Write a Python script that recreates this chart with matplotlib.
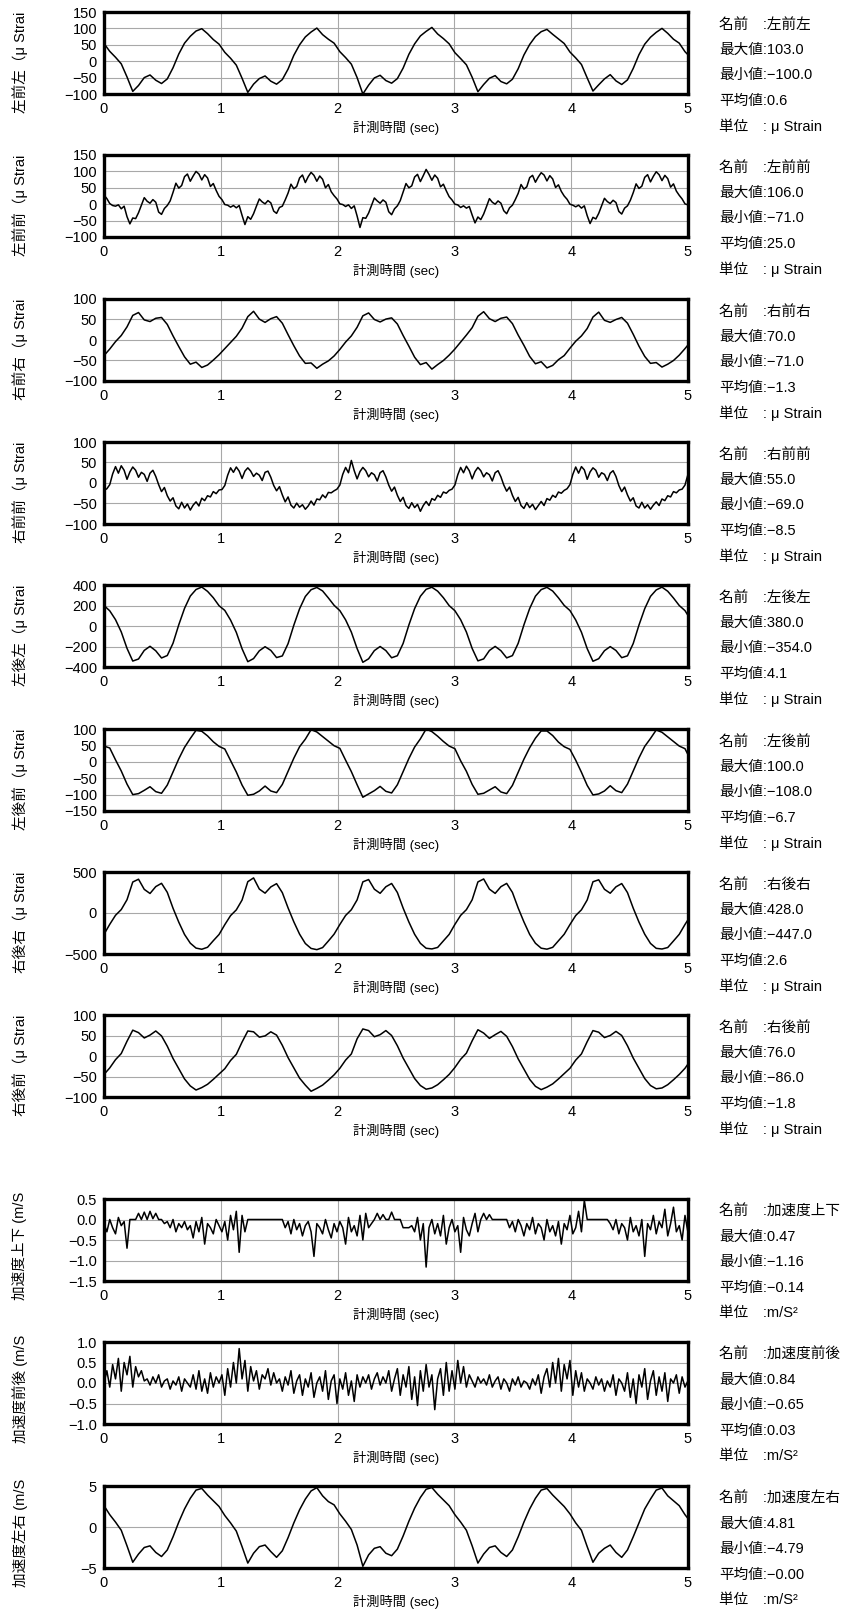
import numpy as np
import matplotlib
matplotlib.use("Agg")
import matplotlib.pyplot as plt

plt.rcParams['font.family'] = ['Liberation Sans', 'Noto Sans CJK JP']
plt.rcParams['axes.unicode_minus'] = True

# sampling steps (sec) of the logged channels
DT = 0.04925
DT_FINE = 0.024625

# --- strain channels (μ Strain) ---
lzl = [54, 30, 12, -8, -48, -92, -74, -50, -42, -58, -68, -54, -20, 22, 55, 76, 92, 99, 84, 66,
       52, 27, 9, -12, -52, -95, -70, -53, -45, -61, -70, -56, -24, 18, 50, 74, 89, 101, 81, 67,
       55, 29, 11, -9, -50, -100, -73, -51, -43, -59, -67, -53, -21, 21, 53, 77, 91, 103, 83, 69,
       53, 26, 8, -11, -49, -93, -71, -52, -44, -62, -69, -55, -23, 19, 51, 75, 90, 97, 82, 68,
       54, 28, 10, -10, -51, -91, -72, -54, -41, -60, -71, -57, -22, 20, 52, 73, 88, 100, 85, 67,
       55, 29, 11]

lzz = [28, 17, 2, -4, -6, -2, -14, -6, -38, -60, -42, -44, -26, -3, 20, 9, 3, 14, 6, -24,
       -31, -13, -4, 10, 36, 64, 49, 57, 84, 92, 70, 86, 100, 92, 74, 90, 80, 54, 63, 42,
       24, 14, -1, -3, -9, -4, -11, -4, -34, -62, -38, -46, -29, -6, 16, 7, 1, 11, 4, -21,
       -28, -10, -6, 13, 34, 61, 47, 54, 80, 89, 66, 84, 97, 88, 70, 86, 76, 50, 60, 38,
       26, 16, 1, -1, -7, -2, -13, -5, -36, -71, -41, -43, -27, -4, 19, 10, 3, 13, 6, -23,
       -32, -14, -5, 11, 37, 63, 50, 56, 83, 91, 69, 87, 106, 91, 73, 89, 79, 53, 61, 41,
       23, 13, 0, -2, -10, -5, -12, -7, -33, -57, -39, -47, -30, -7, 17, 6, 0, 10, 3, -20,
       -29, -11, -3, 14, 33, 60, 46, 53, 81, 88, 67, 83, 96, 89, 71, 87, 77, 51, 59, 39,
       25, 15, 0, -3, -8, -3, -12, -5, -35, -59, -40, -45, -28, -5, 18, 8, 2, 12, 5, -22,
       -30, -12, -5, 12, 35, 62, 48, 55, 82, 90, 68, 85, 99, 90, 72, 88, 78, 52, 62, 40,
       27, 16, 1, -2, -8]

rzr = [-38, -22, -4, 11, 32, 60, 67, 49, 45, 53, 55, 38, 10, -16, -41, -59, -54, -67, -61, -49,
       -36, -21, -6, 9, 29, 57, 70, 51, 43, 52, 57, 41, 13, -14, -39, -57, -56, -69, -59, -51,
       -39, -23, -5, 10, 31, 59, 66, 50, 44, 51, 54, 39, 11, -15, -42, -60, -55, -71, -60, -50,
       -37, -22, -5, 12, 30, 58, 69, 52, 45, 53, 56, 40, 12, -13, -40, -58, -53, -68, -62, -48,
       -38, -20, -3, 10, 28, 56, 68, 48, 43, 50, 55, 41, 14, -15, -40, -57, -55, -66, -59, -50,
       -37, -21, -4]

rzz = [-18, -14, -4, 22, 40, 24, 42, 31, 9, 27, 39, 31, 14, 26, 21, 4, 24, 31, 16, -4,
       -21, -11, -31, -44, -36, -56, -63, -47, -61, -51, -66, -54, -46, -56, -37, -43, -31, -34, -21, -26,
       -17, -16, -6, 19, 37, 26, 39, 29, 11, 29, 37, 29, 16, 24, 19, 6, 26, 29, 14, -6,
       -19, -9, -29, -46, -34, -54, -61, -49, -59, -53, -64, -56, -44, -54, -39, -41, -29, -36, -23, -24,
       -19, -15, -5, 21, 38, 25, 55, 30, 10, 28, 38, 30, 15, 25, 20, 5, 25, 30, 15, -5,
       -20, -10, -30, -45, -35, -55, -62, -48, -60, -52, -69, -55, -45, -55, -38, -42, -30, -35, -22, -25,
       -18, -15, -5, 20, 38, 25, 41, 30, 10, 28, 38, 30, 15, 25, 20, 5, 25, 30, 15, -5,
       -20, -10, -30, -45, -35, -55, -62, -48, -60, -52, -65, -55, -45, -55, -38, -42, -30, -35, -22, -25,
       -18, -14, -4, 21, 39, 24, 40, 32, 9, 27, 37, 31, 14, 25, 21, 6, 24, 30, 16, -6,
       -21, -10, -29, -44, -36, -56, -61, -47, -61, -53, -64, -54, -46, -55, -39, -43, -31, -34, -21, -24,
       -17, -15, -5, 20, 38]

lkl = [200, 148, 62, -58, -218, -342, -322, -238, -198, -242, -312, -288, -168, 12, 172, 292, 356, 380, 338, 276,
       198, 152, 58, -62, -222, -348, -318, -242, -202, -238, -308, -292, -172, 8, 168, 288, 354, 376, 342, 274,
       202, 150, 60, -60, -220, -354, -320, -240, -200, -240, -310, -290, -170, 10, 170, 290, 358, 378, 340, 276,
       199, 149, 61, -59, -219, -340, -321, -239, -199, -241, -311, -289, -169, 11, 171, 291, 355, 377, 341, 275,
       201, 151, 59, -61, -221, -344, -319, -241, -201, -239, -309, -291, -171, 9, 169, 289, 352, 379, 339, 273,
       200, 150, 60]

lkz = [48, 42, 6, -28, -68, -100, -97, -87, -76, -91, -96, -71, -31, 9, 44, 71, 96, 93, 79, 61,
       47, 39, 4, -31, -71, -102, -99, -89, -74, -89, -94, -69, -29, 11, 46, 69, 98, 91, 77, 63,
       49, 41, 5, -30, -70, -108, -98, -88, -75, -90, -95, -70, -30, 10, 45, 70, 100, 92, 78, 62,
       48, 40, 3, -29, -69, -99, -96, -86, -76, -92, -97, -72, -32, 8, 43, 72, 94, 94, 80, 60,
       46, 38, 5, -32, -72, -101, -98, -89, -73, -88, -94, -68, -28, 12, 47, 71, 97, 90, 76, 62,
       48, 40, 5]

rkr = [-260, -138, -28, 42, 162, 378, 412, 288, 238, 322, 362, 252, 58, -112, -262, -368, -428, -442, -418, -338,
       -262, -142, -32, 38, 158, 382, 428, 292, 242, 318, 358, 248, 62, -108, -258, -372, -432, -447, -422, -342,
       -258, -140, -30, 40, 160, 380, 408, 290, 240, 320, 360, 250, 60, -110, -260, -370, -430, -438, -420, -340,
       -261, -139, -29, 41, 161, 379, 415, 291, 239, 321, 361, 251, 61, -109, -261, -369, -429, -441, -419, -339,
       -259, -141, -31, 39, 159, 381, 405, 289, 241, 319, 359, 249, 59, -111, -259, -371, -431, -439, -421, -341,
       -260, -140, -30]

rkz = [-45, -29, -9, 6, 36, 63, 57, 44, 51, 61, 49, 24, -6, -31, -56, -73, -83, -77, -69, -57,
       -44, -31, -11, 4, 34, 61, 59, 46, 49, 59, 51, 26, -4, -29, -54, -71, -86, -79, -71, -59,
       -46, -30, -10, 5, 42, 66, 62, 47, 52, 62, 50, 25, -5, -30, -55, -72, -81, -78, -70, -58,
       -45, -28, -8, 7, 37, 64, 56, 43, 52, 60, 48, 23, -7, -32, -57, -74, -82, -76, -68, -56,
       -43, -30, -10, 5, 35, 62, 58, 45, 50, 60, 50, 25, -5, -30, -55, -72, -80, -78, -70, -58,
       -45, -30, -10]

# --- acceleration channels (m/S^2) ---
acc_ud = [-0.1, -0.3, 0.0, -0.2, -0.35, 0.05, -0.15, -0.05, -0.7, 0.0,
          0.0, 0.0, 0.15, 0.0, 0.18, 0.0, 0.2, 0.02, 0.15, 0.0, 0.0,
          -0.1, -0.05, -0.2, 0.0, -0.3, -0.1, -0.2, -0.05, -0.25, -0.15, -0.45, -0.05, -0.3, 0.05, -0.6,
          -0.1, -0.2, -0.35, 0.0, -0.15, -0.3, -0.05, -0.5, 0.1, -0.25, 0.2, -0.8, 0.1, -0.3,
          0.0, 0.0, 0.0, 0.0, 0.0, 0.0, 0.0, 0.0, 0.0, 0.0, 0.0, 0.0, 0.0,
          -0.2, -0.05, -0.35, 0.0, -0.25, -0.1, -0.4, -0.15, -0.05, -0.3, -0.9, -0.1, -0.2, -0.35, 0.0,
          -0.25, -0.45, -0.1, -0.3, -0.05, -0.2, -0.6, 0.05, -0.3, -0.15, -0.4, 0.1, -0.5, 0.15, -0.2, -0.1,
          0.0, 0.15, 0.0, 0.12, 0.0, 0.0, 0.18, 0.0, 0.0, 0.0,
          -0.2, -0.2, -0.2, -0.15,
          -0.3, 0.05, -0.5, -0.1, -1.16, -0.2, 0.0, -0.35, -0.1, -0.4, 0.1, -0.6, -0.2, 0.0, -0.3,
          -0.15, -0.8, 0.05, -0.25, -0.4, -0.1, 0.15, -0.3,
          0.0, 0.15, 0.0, 0.12, 0.0, 0.0,
          0.0, 0.0, 0.0, 0.0,
          -0.2, -0.05, -0.3, 0.0, -0.15, -0.4, -0.1, -0.25, 0.05, -0.35, -0.1, -0.2, -0.5, 0.0, -0.3,
          -0.15, -0.4, -0.05, -0.6, -0.1, -0.25, 0.1, -0.35, -0.2, 0.2, -0.3,
          0.47, 0.0,
          0.0, 0.0, 0.0, 0.0, 0.0, 0.0, 0.0,
          -0.1, -0.25, 0.0, -0.35, -0.1, -0.2, -0.5, 0.05, -0.3, -0.15, -0.4, 0.0, -0.9, -0.1, -0.25,
          0.1, -0.35, -0.05, -0.2, 0.25, -0.4, -0.1, 0.3, -0.3, -0.15, -0.5, 0.1, -0.3, -0.2]

acc_fb = [0.0, 0.3, -0.1, 0.45, 0.1, 0.6, -0.2, 0.5, 0.2, 0.65, -0.1, 0.4, 0.15, 0.3, 0.05,
          0.1, -0.05, 0.15, 0.0, 0.2, -0.1, 0.05, 0.1, -0.15, 0.05, -0.05, 0.15, -0.2, 0.1, 0.0,
          -0.1, 0.2, -0.15, 0.3, -0.2, 0.1, -0.25, 0.25, -0.1, 0.15, 0.0,
          0.2, -0.3, 0.35, -0.1, 0.5, 0.0, 0.84, 0.1, 0.55, -0.2, 0.4, 0.05, 0.3, -0.15, 0.2,
          0.1, 0.35, -0.05, 0.25, 0.0,
          0.1, -0.2, 0.15, -0.05, 0.3, -0.25, 0.05, 0.2, -0.3, 0.1, -0.1, 0.25, -0.35, 0.0, 0.15,
          -0.2, 0.3, -0.4, 0.05, 0.2, -0.5, 0.1, -0.15, 0.25, -0.3, 0.05, -0.45, 0.2, -0.1, 0.15,
          0.0, 0.2, -0.15, 0.1, 0.25, -0.05, 0.15, 0.0, 0.3, -0.2, 0.1, 0.35, -0.3, 0.2, -0.1,
          0.4, -0.4, 0.15, -0.55, 0.3, -0.2, 0.45, -0.1, 0.2, -0.65, 0.1, 0.35, -0.3, 0.5, -0.2,
          0.3, -0.15, 0.55, 0.0, 0.4, -0.1, 0.2, 0.05, -0.1, 0.15, 0.0, 0.1, -0.05, 0.2, -0.1,
          0.05, 0.15, -0.15, 0.1, 0.0, -0.2, 0.1, -0.05, 0.15, -0.1, 0.05, 0.0, -0.15, 0.1, -0.05,
          0.2, -0.25, 0.15, 0.35, -0.1, 0.5, 0.0, 0.6, -0.2, 0.45, 0.1, 0.55, -0.3, 0.3, -0.1,
          0.25, -0.2, 0.1, 0.0, -0.15, 0.15, -0.05, 0.1, -0.2, 0.05, -0.1, 0.2, -0.3, 0.1, 0.0,
          -0.2, 0.25, -0.35, 0.1, -0.5, 0.2, -0.1, 0.35, -0.4, 0.05, 0.3, -0.3, 0.15, -0.2, 0.25,
          -0.45, 0.1, 0.0, 0.2, -0.25, 0.15, -0.1, 0.05, 0.1, -0.05]

acc_lr = [2.6, 1.5, 0.6, -0.4, -2.3, -4.3, -3.3, -2.5, -2.3, -3.1, -3.6, -2.8, -1.2, 0.6, 2.2, 3.5, 4.5, 4.7, 3.9, 3.2,
          2.5, 1.4, 0.5, -0.5, -2.4, -4.4, -3.2, -2.4, -2.2, -3.0, -3.7, -2.9, -1.3, 0.5, 2.1, 3.4, 4.4, 4.8, 3.8, 3.1,
          2.7, 1.6, 0.7, -0.3, -2.2, -4.79, -3.4, -2.6, -2.4, -3.2, -3.5, -2.7, -1.1, 0.7, 2.3, 3.6, 4.6, 4.81, 4.0, 3.3,
          2.6, 1.5, 0.6, -0.4, -2.3, -4.4, -3.3, -2.5, -2.3, -3.1, -3.6, -2.8, -1.2, 0.6, 2.2, 3.5, 4.5, 4.7, 3.9, 3.2,
          2.5, 1.6, 0.5, -0.4, -2.4, -4.3, -3.2, -2.6, -2.2, -3.1, -3.7, -2.8, -1.2, 0.5, 2.2, 3.4, 4.5, 4.75, 3.8, 3.2,
          2.6, 1.5, 0.6]

series = [lzl, lzz, rzr, rzz, lkl, lkz, rkr, rkz, acc_ud, acc_fb, acc_lr]
steps = [DT, DT_FINE, DT, DT_FINE, DT, DT, DT, DT, DT_FINE, DT_FINE, DT]

names = ['左前左', '左前前', '右前右', '右前前', '左後左', '左後前', '右後右', '右後前',
         '加速度上下', '加速度前後', '加速度左右']
ylabels = ['左前左（μ Strai', '左前前（μ Strai', '右前右（μ Strai', '右前前（μ Strai',
           '左後左（μ Strai', '左後前（μ Strai', '右後右（μ Strai', '右後前（μ Strai',
           '加速度上下 (m/S', '加速度前後 (m/S', '加速度左右 (m/S']
yticks = [[-100, -50, 0, 50, 100, 150], [-100, -50, 0, 50, 100, 150],
          [-100, -50, 0, 50, 100], [-100, -50, 0, 50, 100],
          [-400, -200, 0, 200, 400], [-150, -100, -50, 0, 50, 100],
          [-500, 0, 500], [-100, -50, 0, 50, 100],
          [-1.5, -1.0, -0.5, 0.0, 0.5], [-1.0, -0.5, 0.0, 0.5, 1.0], [-5, 0, 5]]
tick_fmt = ['{:.0f}'] * 8 + ['{:.1f}', '{:.1f}', '{:.0f}']
max_vals = ['103.0', '106.0', '70.0', '55.0', '380.0', '100.0', '428.0', '76.0', '0.47', '0.84', '4.81']
min_vals = ['−100.0', '−71.0', '−71.0', '−69.0', '−354.0', '−108.0', '−447.0', '−86.0', '−1.16', '−0.65', '−4.79']
mean_vals = ['0.6', '25.0', '−1.3', '−8.5', '4.1', '−6.7', '2.6', '−1.8', '−0.14', '0.03', '−0.00']
units = [': μ Strain'] * 8 + [':m/S²'] * 3

W, H = 852, 1619
tops = [12, 155, 299, 442, 585, 729, 872, 1015, 1199, 1342, 1486]
AX_L, AX_W, AX_H = 104, 584, 82
line_off = [13, 38, 63, 89, 114]

fig = plt.figure(figsize=(W / 100, H / 100), dpi=100)
fig.patch.set_facecolor('white')

for i, vals in enumerate(series):
    top = tops[i]
    ax = fig.add_axes([AX_L / W, 1 - (top + AX_H) / H, AX_W / W, AX_H / H])
    t = np.arange(len(vals)) * steps[i]
    ax.plot(t, vals, color='black', lw=1.1)
    ax.set_xlim(0, 5)
    ax.set_ylim(yticks[i][0], yticks[i][-1])
    ax.set_xticks(range(6))
    ax.set_yticks(yticks[i])
    ax.set_yticklabels([tick_fmt[i].format(v).replace('-', '−') for v in yticks[i]])
    ax.grid(True, color='#a8a8a8', lw=0.8)
    ax.tick_params(length=0, labelsize=10.5)
    ax.tick_params(axis='x', pad=6)
    ax.tick_params(axis='y', pad=5)
    for s in ax.spines.values():
        s.set_linewidth(2.4)
    ax.set_xlabel('計測時間 (sec)', fontsize=9.5, labelpad=3.5)

    fig.text(20 / W, 1 - (top + 101) / H, ylabels[i], rotation=90,
             ha='center', va='bottom', fontsize=10.5)

    lines = ['名前\u3000:' + names[i], '最大値:' + max_vals[i], '最小値:' + min_vals[i],
             '平均値:' + mean_vals[i], '単位\u3000' + units[i]]
    for j, txt in enumerate(lines):
        fig.text(719 / W, 1 - (top + line_off[j]) / H, txt, fontsize=10.5, va='center')

fig.savefig('out.png', dpi=100)
